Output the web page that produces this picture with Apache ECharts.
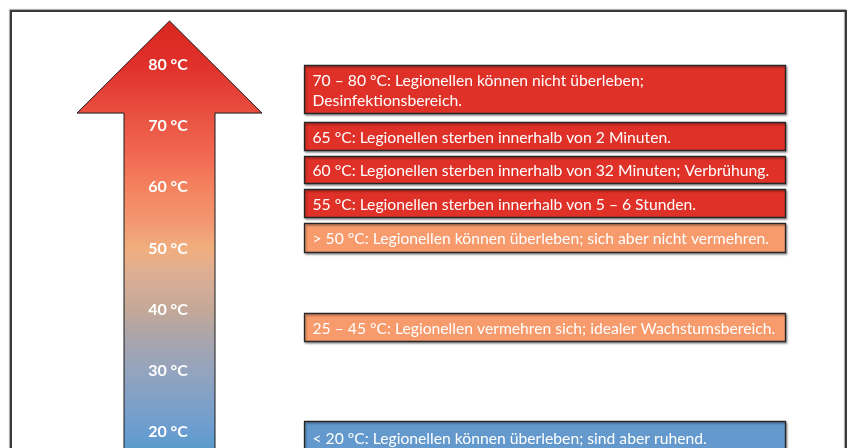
<!DOCTYPE html>
<html>
<head>
<meta charset="utf-8">
<script src="https://cdn.jsdelivr.net/npm/echarts@6/dist/echarts.min.js"></script>
<style>html,body{margin:0;padding:0;background:#fff}#c{width:849px;height:448px}</style>
</head>
<body>
<div id="c"></div>
<script>
// ---- data ----
const tickTemps = [20, 30, 40, 50, 60, 70, 80];
const tickLabels = ['20 °C', '30 °C', '40 °C', '50 °C', '60 °C', '70 °C', '80 °C'];
const boxTexts = [
  '70 – 80 °C: Legionellen können nicht überleben;\nDesinfektionsbereich.',
  '65 °C: Legionellen sterben innerhalb von 2 Minuten.',
  '60 °C: Legionellen sterben innerhalb von 32 Minuten; Verbrühung.',
  '55 °C: Legionellen sterben innerhalb von 5 – 6 Stunden.',
  '> 50 °C: Legionellen können überleben; sich aber nicht vermehren.',
  '25 – 45 °C: Legionellen vermehren sich; idealer Wachstumsbereich.',
  '< 20 °C: Legionellen können überleben; sind aber ruhend.'
];
const boxTop = [80.0, 70.65, 65.1, 59.7, 54.15, 39.4, 21.8];
const boxBottom = [72.15, 66.1, 60.7, 55.1, 49.4, 34.85, 16.5];
const boxLevel = ['hot', 'hot', 'hot', 'hot', 'warm', 'warm', 'cold'];

// ---- style / layout ----
const levelColor = { hot: '#E03128', warm: '#F79A6C', cold: '#6399CC' };
const gradStops = [
  [86.5, '#D8281F'], [80, '#E0302A'], [70, '#EB5846'], [66.1, '#F16450'],
  [60, '#F4825F'], [54.7, '#F39570'], [50, '#F0AE7E'], [46.5, '#E0AE90'],
  [43.2, '#D2AC98'], [40, '#C4A898'], [35, '#A8A4AC'], [30, '#94A4BE'],
  [25.2, '#80A0C6'], [20, '#6A9CD0'], [17.7, '#5C9CCC'], [14, '#579ACA']
];
const arrow = { cx: 169.5, tip: 87.2, headBase: 72.14, headHalf: 92.5, shaftHalf: 45.5, bottom: 14 };
const boxX0 = 304, boxX1 = 785;
const FONT = 'Lato, "Open Sans", sans-serif';

const chart = echarts.init(document.getElementById('c'), null, { renderer: 'canvas' });

const option = {
  backgroundColor: '#ffffff',
  animation: false,
  grid: { left: 0, right: 0, top: 3.83, bottom: 16, containLabel: false },
  xAxis: { type: 'value', min: 0, max: 849, show: false },
  yAxis: {
    type: 'value', min: 20, max: 90, z: 10,
    position: 'left', offset: -168,
    splitLine: { show: false }, axisLine: { show: false }, axisTick: { show: false },
    axisLabel: {
      show: true, customValues: tickTemps, margin: 0, align: 'center',
      color: '#ffffff', fontFamily: FONT, fontWeight: 'bold', fontSize: 16,
      formatter: function (v) { const i = tickTemps.indexOf(v); return i >= 0 ? tickLabels[i] : ''; }
    }
  },
  graphic: [{
    type: 'rect', z: 100, silent: true,
    shape: { x: 11, y: 11, width: 835, height: 480 },
    style: { fill: null, stroke: '#3a3a3a', lineWidth: 2, shadowColor: 'rgba(0,0,0,0.35)', shadowBlur: 1, shadowOffsetX: -1, shadowOffsetY: -1 }
  }],
  series: [
    {
      type: 'custom', name: 'arrow', clip: false, z: 2,
      data: [[arrow.cx, arrow.tip]],
      renderItem: function (params, api) {
        const p = (x, t) => api.coord([x, t]);
        const cx = arrow.cx;
        const pts = [
          p(cx, arrow.tip),
          p(cx + arrow.headHalf, arrow.headBase),
          p(cx + arrow.shaftHalf, arrow.headBase),
          p(cx + arrow.shaftHalf, arrow.bottom),
          p(cx - arrow.shaftHalf, arrow.bottom),
          p(cx - arrow.shaftHalf, arrow.headBase),
          p(cx - arrow.headHalf, arrow.headBase)
        ];
        const yTop = pts[0][1], yBot = pts[3][1];
        const stops = gradStops.map(s => ({ offset: Math.min(1, Math.max(0, (api.coord([0, s[0]])[1] - yTop) / (yBot - yTop))), color: s[1] }));
        stops.sort((a, b) => a.offset - b.offset);
        return {
          type: 'polygon',
          shape: { points: pts },
          style: {
            fill: new echarts.graphic.LinearGradient(0, yTop, 0, yBot, stops, true),
            stroke: '#1a1a1a', lineWidth: 1
          }
        };
      }
    },
    {
      type: 'custom', name: 'boxes', clip: false, z: 3,
      data: boxTexts.map((t, i) => [boxTop[i], boxBottom[i], i]),
      renderItem: function (params, api) {
        const i = api.value(2);
        const a = api.coord([boxX0, api.value(0)]);
        const b = api.coord([boxX1, api.value(1)]);
        const x = Math.round(a[0]) + 0.5, y = Math.round(a[1]) + 0.5;
        const w = Math.round(b[0] - a[0]), h = Math.round(b[1] - a[1]);
        return {
          type: 'group',
          children: [
            {
              type: 'rect',
              shape: { x: x, y: y, width: w, height: h },
              style: {
                fill: levelColor[boxLevel[i]], stroke: '#262626', lineWidth: 1.3,
                shadowColor: 'rgba(0,0,0,0.35)', shadowBlur: 2, shadowOffsetX: 1, shadowOffsetY: 1.5
              }
            },
            {
              type: 'text',
              style: {
                text: boxTexts[i], x: x + 8, y: y + h / 2 + 1,
                verticalAlign: 'middle', align: 'left',
                fill: '#ffffff', font: '15.7px ' + FONT, lineHeight: 20
              }
            }
          ]
        };
      }
    }
  ]
};
chart.setOption(option);
</script>
</body>
</html>
